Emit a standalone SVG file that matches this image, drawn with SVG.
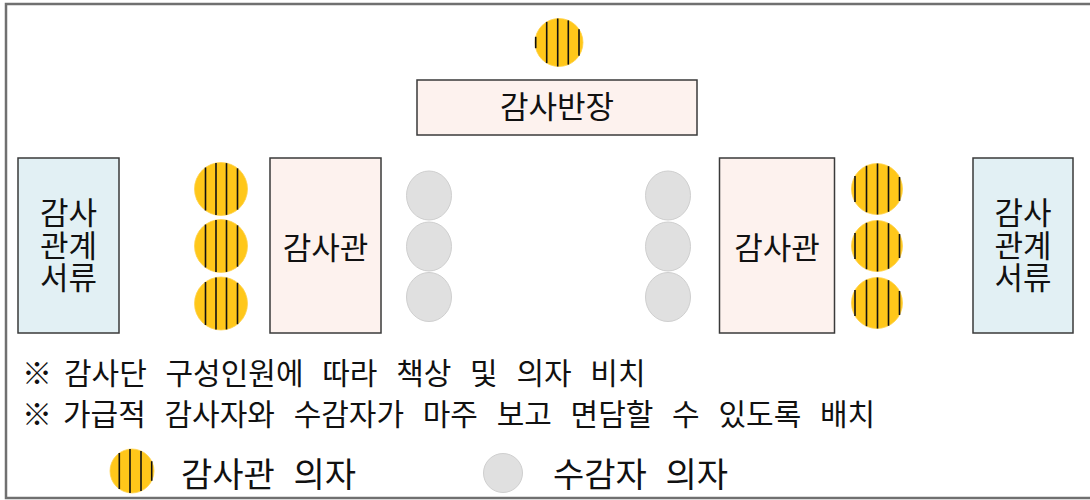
<svg xmlns="http://www.w3.org/2000/svg" xmlns:xlink="http://www.w3.org/1999/xlink" width="1090" height="500" viewBox="0 0 1090 500">
<style>
text{font-family:"Noto Sans CJK KR","Noto Sans",sans-serif;fill:#111}
.desk{fill:#FDF2EE;stroke:#3a3a3a;stroke-width:1.5}
.doc{fill:#E2F0F4;stroke:#3a3a3a;stroke-width:1.5}
.yc{fill:#FFC71A;stroke:#FFD24A;stroke-width:0.8}
.st{stroke:#111;stroke-width:1.6}
.gc{fill:#E0E0E0;stroke:#CFCFCF;stroke-width:1}
.lbl{font-size:31px;text-anchor:middle}
.note{font-size:30px;word-spacing:12px}
.leg{font-size:34px;word-spacing:11px}
</style>
<defs>
<g id="chairL">
<circle class="yc" r="26.5"/>
<line class="st" x1="-15.5" y1="-21.5" x2="-15.5" y2="21.5"/>
<line class="st" x1="-5" y1="-26" x2="-5" y2="26"/>
<line class="st" x1="5.5" y1="-25.9" x2="5.5" y2="25.9"/>
<line class="st" x1="16.5" y1="-20.7" x2="16.5" y2="20.7"/>
</g>
<g id="chairR">
<circle class="yc" r="25.5"/>
<line class="st" x1="-22" y1="-12.9" x2="-22" y2="12.9"/>
<line class="st" x1="-10.5" y1="-23.2" x2="-10.5" y2="23.2"/>
<line class="st" x1="0.5" y1="-25.5" x2="0.5" y2="25.5"/>
<line class="st" x1="11.5" y1="-22.8" x2="11.5" y2="22.8"/>
<line class="st" x1="22.5" y1="-12" x2="22.5" y2="12"/>
</g>
<ellipse id="gchair" class="gc" rx="22.5" ry="24.5"/>
</defs>
<rect x="6" y="4" width="1100" height="494" fill="#fff" stroke="#707070" stroke-width="2.5"/>
<g id="chief-chair">
<circle class="yc" cx="559" cy="42.5" r="24"/>
<line class="st" x1="535.7" y1="36.8" x2="535.7" y2="48.2"/>
<line class="st" x1="546.7" y1="21.9" x2="546.7" y2="63.1"/>
<line class="st" x1="557.7" y1="18.5" x2="557.7" y2="66.5"/>
<line class="st" x1="568.3" y1="20.4" x2="568.3" y2="64.6"/>
<line class="st" x1="579" y1="29.2" x2="579" y2="55.8"/>
</g>
<g id="chief-desk">
<rect class="desk" x="417" y="80" width="280" height="55"/>
<text class="lbl" x="557" y="118">감사반장</text>
</g>
<g id="docs-left">
<rect class="doc" x="18" y="158" width="101" height="175"/>
<text class="lbl"><tspan x="68.5" y="224">감사</tspan><tspan x="68.5" y="257">관계</tspan><tspan x="68.5" y="289">서류</tspan></text>
</g>
<g id="auditor-chairs-left">
<use xlink:href="#chairL" x="221" y="189"/>
<use xlink:href="#chairL" x="221" y="246"/>
<use xlink:href="#chairL" x="221" y="303.5"/>
</g>
<g id="desk-left">
<rect class="desk" x="270" y="158" width="111" height="175"/>
<text class="lbl" x="325.5" y="259">감사관</text>
</g>
<g id="auditee-chairs-left">
<use xlink:href="#gchair" x="429" y="195.5"/>
<use xlink:href="#gchair" x="429" y="246.5"/>
<use xlink:href="#gchair" x="429" y="297"/>
</g>
<g id="auditee-chairs-right">
<use xlink:href="#gchair" x="668" y="195.5"/>
<use xlink:href="#gchair" x="668" y="246.5"/>
<use xlink:href="#gchair" x="668" y="297"/>
</g>
<g id="desk-right">
<rect class="desk" x="719.5" y="158" width="115" height="175"/>
<text class="lbl" x="777" y="259">감사관</text>
</g>
<g id="auditor-chairs-right">
<use xlink:href="#chairR" x="877" y="189"/>
<use xlink:href="#chairR" x="877" y="246"/>
<use xlink:href="#chairR" x="877" y="303"/>
</g>
<g id="docs-right">
<rect class="doc" x="973" y="158" width="100" height="175"/>
<text class="lbl"><tspan x="1023" y="224">감사</tspan><tspan x="1023" y="257">관계</tspan><tspan x="1023" y="289">서류</tspan></text>
</g>
<g id="notes">
<text class="note" x="22" y="384">※<tspan x="64">감사단 구성인원에 따라 책상 및 의자 비치</tspan></text>
<text class="note" x="22" y="425">※<tspan x="63">가급적 감사자와 수감자가 마주 보고 면담할 수 있도록 배치</tspan></text>
</g>
<g id="legend">
<circle class="yc" cx="132" cy="471" r="22"/>
<line class="st" x1="119.3" y1="453" x2="119.3" y2="489"/>
<line class="st" x1="130" y1="449.1" x2="130" y2="492.9"/>
<line class="st" x1="141" y1="450.9" x2="141" y2="491.1"/>
<line class="st" x1="151.7" y1="461.2" x2="151.7" y2="480.8"/>
<text class="leg" x="181" y="487">감사관 의자</text>
<circle class="gc" cx="503" cy="473" r="19.5"/>
<text class="leg" x="553" y="487">수감자 의자</text>
</g>
</svg>
